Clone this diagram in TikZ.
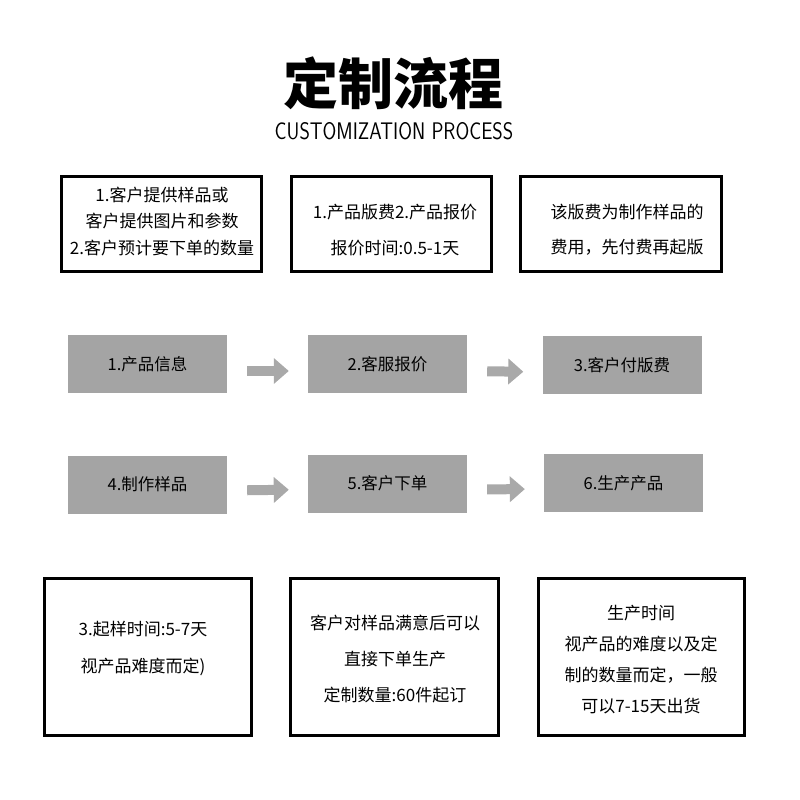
\documentclass[tikz,border=0pt]{standalone}
\usepackage{fontspec}
\usepackage{graphicx}
\usetikzlibrary{arrows.meta}
\newfontfamily\cjk{Noto Sans CJK SC}
\definecolor{stepgray}{HTML}{A4A4A4}
\definecolor{arrowgray}{HTML}{A9A9A9}
\tikzset{
  infobox/.style = {draw=black, line width=3pt, inner sep=0pt},
  infotext/.style = {align=center, inner sep=0pt, font=\cjk\fontsize{17}{#1}\selectfont},
  stepbox/.style = {fill=stepgray, minimum width=159pt, minimum height=58pt, inner sep=0pt, font=\cjk\fontsize{16.5}{20}\selectfont},
  go/.style = {draw=arrowgray, line width=10pt, -{Triangle[length=15pt, width=25pt]}, shorten <=20pt, shorten >=19pt}
}

\begin{document}
\begin{tikzpicture}[x=1pt, y=-1pt]
\useasboundingbox (0,0) rectangle (800,800);
% title
\node [font=\cjk\bfseries\fontsize{55}{60}\selectfont] (title) at (393,83) {定制流程};
\node [font=\sffamily\fontsize{24}{28}\selectfont] (subtitle) at (394,131) {\scalebox{0.83}[1]{CUSTOMIZATION PROCESS}};

% notes above
\node [infobox, minimum width=200pt, minimum height=95pt] (b1) at (161.5,223.5) {};
\node [infobox, minimum width=200pt, minimum height=95pt] (b2) at (391.5,223.5) {};
\node [infobox, minimum width=201pt, minimum height=95pt] (b3) at (621,223.5) {};
\node [infotext=26.5pt] (t1) at (162,221.5) {1.客户提供样品或\\客户提供图片和参数\\2.客户预计要下单的数量};
\node [infotext=36pt] (t2) at (395,230) {1.产品版费2.产品报价\\报价时间:0.5-1天};
\node [infotext=35pt] (t3) at (627,230) {该版费为制作样品的\\费用，先付费再起版};

% steps
\node [stepbox] (p1) at (147.5,364) {1.产品信息};
\node [stepbox] (p2) at (387.5,364) {2.客服报价};
\node [stepbox] (p3) at (622,365) {3.客户付版费};
\node [stepbox] (p4) at (147.5,484.5) {4.制作样品};
\node [stepbox] (p5) at (387.5,483.5) {5.客户下单};
\node [stepbox] (p6) at (623.5,483) {6.生产产品};
\draw [go] ([yshift=-7pt]p1.east) -- ([yshift=-7pt]p2.west);
\draw [go] ([yshift=-7pt]p2.east) -- ([yshift=-7pt]p3.west);
\draw [go] ([yshift=-6pt]p4.east) -- ([yshift=-6pt]p5.west);
\draw [go] ([yshift=-6pt]p5.east) -- ([yshift=-6pt]p6.west);

% notes below
\node [infobox, minimum width=207pt, minimum height=157pt] (n1) at (148,657) {};
\node [infobox, minimum width=208pt, minimum height=157pt] (n2) at (394.5,657) {};
\node [infobox, minimum width=206pt, minimum height=157pt] (n3) at (641.5,657) {};
\node [infotext=37pt] (s1) at (143,648.5) {3.起样时间:5-7天\\视产品难度而定)};
\node [infotext=36pt] (s2) at (395,659) {客户对样品满意后可以\\直接下单生产\\定制数量:60件起订};
\node [infotext=31pt] (s3) at (641,660) {生产时间\\视产品的难度以及定\\制的数量而定，一般\\可以7-15天出货};
\end{tikzpicture}
\end{document}
